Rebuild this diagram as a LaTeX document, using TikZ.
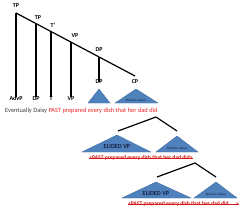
\documentclass[tikz,border=0pt]{standalone}
\usepackage{fontspec}
\setmainfont{Carlito}
\usetikzlibrary{positioning, calc}
\definecolor{triblue}{RGB}{79,129,189}
\definecolor{txtred}{RGB}{236,36,36}
\definecolor{strred}{RGB}{214,24,24}
\definecolor{navyink}{RGB}{22,34,66}

\begin{document}
\begin{tikzpicture}[x=1pt, y=-1pt,
  lab/.style={font=\fontsize{6}{7}\selectfont\bfseries, inner sep=0pt},
  tri/.style={fill=triblue, draw=triblue!85!black, line width=0.4pt},
  branch/.style={line width=1.2pt, black},
  tritext/.style={font=\fontsize{3.4}{4}\selectfont, navyink, inner sep=0pt},
  elided/.style={font=\fontsize{6.2}{7}\selectfont\bfseries, navyink, inner sep=0pt},
  sent/.style={font=\fontsize{6.4}{7}\selectfont, inner sep=0pt, anchor=west},
  struck/.style={font=\fontsize{5.6}{6}\selectfont\bfseries, strred, inner sep=0pt},
  strike/.style={strred, line width=0.5pt}]
  \useasboundingbox[fill=white] (0,0) rectangle (250,212);

  % Spine of the tree
  \node[lab] (tp) at (16,6) {TP};
  \coordinate (top) at (16,13);
  \coordinate (spineend) at (135,76);
  \draw[branch] (top) -- (spineend);

  % Labels along the spine
  \node[lab] (tpbar) at (38,18) {TP};
  \node[lab] (tbar) at (53,25) {T'};
  \node[lab] (vphi) at (75,36) {VP};
  \node[lab] (dphi) at (99,50) {DP};

  % Leaves
  \node[lab] (advp) at (16,98.5) {AdvP};
  \node[lab] (dp) at (36,98.5) {DP};
  \node[lab] (t) at (51,98.5) {T};
  \node[lab] (vp) at (71,98.5) {VP};
  \node[lab] (dplo) at (99,82) {DP};
  \node[lab] (cp) at (135,82) {CP};

  \coordinate (j1) at (36,23.6);
  \coordinate (j2) at (51,31.5);
  \coordinate (j3) at (71,42);
  \coordinate (j4) at (99,57);
  \draw[branch] (top) -- ([yshift=-1pt]advp.north);
  \draw[branch] (j1) -- ([yshift=-1pt]dp.north);
  \draw[branch] (j2) -- ([yshift=-1pt]t.north);
  \draw[branch] (j3) -- ([yshift=-1pt]vp.north);
  \draw[branch] (j4) -- ([yshift=-2pt]dplo.north);

  % Triangles under DP and CP
  \fill[tri] (99,89) -- (88,103) -- (110,103) -- cycle;
  \fill[tri] (136,89) -- (115,103) -- (158,103) -- cycle;
  \node[tritext] (rc1) at (136,100.3) {Relative clause};

  % Sentence
  \node[sent] (s1) at (5,111) {\color{black!75}Eventually Daisy \color{txtred}PAST prepared every dish that her dad did};

  % Second tree
  \coordinate (top2) at (156,117);
  \coordinate (l2) at (118,131);
  \coordinate (r2) at (177,131);
  \draw[branch] (l2) -- (top2) -- (r2);
  \fill[tri] (117,135) -- (82,152) -- (151,152) -- cycle;
  \node[elided] (ev1) at (117,146) {ELIDED VP};
  \fill[tri] (177,136) -- (156,152) -- (198,152) -- cycle;
  \node[tritext] (rc2) at (177,148) {Relative clause};
  \node[struck] (s2) at (141,158) {<PAST prepared every dish that her dad did>};
  \draw[strike] (s2.west) -- (s2.east);

  % Third tree
  \coordinate (top3) at (195,163);
  \coordinate (l3) at (157,177);
  \coordinate (r3) at (216,177);
  \draw[branch] (l3) -- (top3) -- (r3);
  \fill[tri] (156,182) -- (122,198) -- (191,198) -- cycle;
  \node[elided] (ev2) at (156,193) {ELIDED VP};
  \fill[tri] (216,182) -- (194,198) -- (237,198) -- cycle;
  \node[tritext] (rc3) at (216,194) {Relative clause};
  \node[struck] (s3) at (183.5,204) {<PAST prepared every dish that her dad did.....>};
  \draw[strike] (s3.west) -- (s3.east);
\end{tikzpicture}
\end{document}
